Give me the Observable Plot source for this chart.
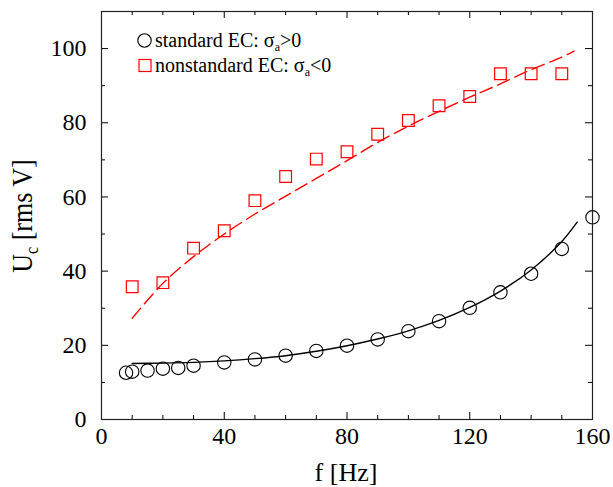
<!DOCTYPE html>
<html><head><meta charset="utf-8">
<script src="https://cdn.jsdelivr.net/npm/d3@7"></script>
<script src="https://cdn.jsdelivr.net/npm/@observablehq/plot@0.6"></script>
<style>
html,body{margin:0;padding:0;background:#fff;}
svg text, svg tspan{font-family:"Liberation Serif","Times New Roman",serif !important;}
</style>
</head><body><div id="chart"></div>
<script>
// standard EC (circles) and fit (solid line)
const stdF = [8,10,15,20,25,30,40,50,60,70,80,90,100,110,120,130,140,150,160];
const stdU = [12.6,12.9,13.2,13.7,13.9,14.5,15.4,16.2,17.2,18.5,19.9,21.6,23.8,26.5,30.1,34.3,39.3,46.0,54.5];
const stdFitF = [10,20,30,40,50,60,70,80,90,100,110,120,130,140,150,155];
const stdFitU = [15.1,15.2,15.4,15.8,16.4,17.2,18.4,19.9,21.7,23.9,26.7,30.2,34.6,40.3,48.0,53.2];
// nonstandard EC (squares) and fit (dashed line)
const nonF = [10,20,30,40,50,60,70,80,90,100,110,120,130,140,150];
const nonU = [35.8,36.9,46.2,50.9,59.0,65.5,70.2,72.2,76.9,80.6,84.6,87.1,93.2,93.2,93.2];
const nonFitF = [10,20,30,40,50,60,70,80,90,100,110,120,130,140,150,154];
const nonFitU = [27.3,36.7,43.9,50.0,55.4,60.2,65.0,69.8,74.7,79.1,83.1,86.9,90.5,94.3,97.7,99.3];
// ticks
const xMajor = [0,40,80,120,160];
const xMinor = [10,20,30,50,60,70,90,100,110,130,140,150];
const yMajor = [0,20,40,60,80,100];
const yMinor = [10,30,50,70,90];
// labels
const xTitle = "f [Hz]";
const yTitleMain = "U", yTitleSub = "c", yTitleRest = "\u00a0[rms V]";
const legendStd = ["standard EC: σ", "a", ">0"];
const legendNon = ["nonstandard EC: σ", "a", "<0"];

const W = 613, H = 487, mL = 101, mR = 21, mT = 11, mB = 68;
const innerH = H - mT - mB, innerW = W - mL - mR;
const major = 7, minor = 4;

const std = stdF.map((f,i)=>({f, u: stdU[i]}));
const stdFit = stdFitF.map((f,i)=>({f, u: stdFitU[i]}));
const non = nonF.map((f,i)=>({f, u: nonU[i]}));
const nonFit = nonFitF.map((f,i)=>({f, u: nonFitU[i]}));

const font = "Liberation Serif, Times New Roman, serif";
const plot = Plot.plot({
  width: W, height: H,
  marginLeft: mL, marginRight: mR, marginTop: mT, marginBottom: mB,
  style: {background: "#fff", color: "#000", fontFamily: font, fontSize: "24px"},
  x: {domain: [0,160]},
  y: {domain: [0,110]},
  marks: [
    Plot.axisX(xMajor, {tickSize: 0, tickPadding: 7, label: null, fontSize: 24}),
    Plot.axisY(yMajor, {tickSize: 0, tickPadding: 15, label: null, fontSize: 24}),
    Plot.tickX(xMajor, {insetTop: innerH - major, stroke: "#000"}),
    Plot.tickX(xMinor, {insetTop: innerH - minor, stroke: "#000"}),
    Plot.tickX(xMajor, {insetBottom: innerH - major, stroke: "#000"}),
    Plot.tickX(xMinor, {insetBottom: innerH - minor, stroke: "#000"}),
    Plot.tickY(yMajor, {insetRight: innerW - major, stroke: "#000"}),
    Plot.tickY(yMinor, {insetRight: innerW - minor, stroke: "#000"}),
    Plot.tickY(yMajor, {insetLeft: innerW - major, stroke: "#000"}),
    Plot.tickY(yMinor, {insetLeft: innerW - minor, stroke: "#000"}),
    Plot.line(stdFit, {x: "f", y: "u", curve: "catmull-rom", stroke: "#000", strokeWidth: 1.4}),
    Plot.line(nonFit, {x: "f", y: "u", curve: "catmull-rom", stroke: "#f00", strokeWidth: 1.4, strokeDasharray: "13,6"}),
    Plot.dot(std, {x: "f", y: "u", r: 6.7, stroke: "#000", fill: "none", strokeWidth: 1.1}),
    Plot.dot(non, {x: "f", y: "u", symbol: "square", r: 6.6, stroke: "#f00", fill: "none", strokeWidth: 1.2}),
    Plot.frame({stroke: "#222", strokeWidth: 1.2})
  ]
});
document.getElementById("chart").appendChild(plot);

const svg = d3.select(plot);
svg.selectAll("text").attr("font-family", font).style("font-family", font);
// x title
svg.append("text").attr("x", 346).attr("y", 481).attr("text-anchor", "middle")
  .attr("font-size", 26).attr("font-family", font).attr("fill", "#000").text(xTitle);
// y title with subscript
const yt = svg.append("text").attr("transform", "translate(32,216) rotate(-90) scale(1,1.12)")
  .attr("text-anchor", "middle").attr("font-size", 26).attr("font-family", font).attr("fill", "#000");
yt.append("tspan").text(yTitleMain);
yt.append("tspan").attr("font-size", 16).attr("dy", 5).text(yTitleSub);
yt.append("tspan").attr("dy", -5).text(yTitleRest);
// legend
const lg = svg.append("g");
lg.append("circle").attr("cx", 144.5).attr("cy", 40.5).attr("r", 6.7).attr("fill", "none").attr("stroke", "#000").attr("stroke-width", 1.1);
lg.append("rect").attr("x", 139).attr("y", 59.5).attr("width", 12).attr("height", 12).attr("fill", "none").attr("stroke", "#f00").attr("stroke-width", 1.2);
function legendText(y, parts) {
  const t = lg.append("text").attr("x", 155).attr("y", y).attr("text-anchor", "start")
    .attr("font-size", 20).attr("font-family", font).attr("fill", "#000");
  t.append("tspan").text(parts[0]);
  t.append("tspan").attr("font-size", 12).attr("dy", 4).text(parts[1]);
  t.append("tspan").attr("dy", -4).text(parts[2]);
}
legendText(47, legendStd);
legendText(72, legendNon);
</script>
</body></html>
